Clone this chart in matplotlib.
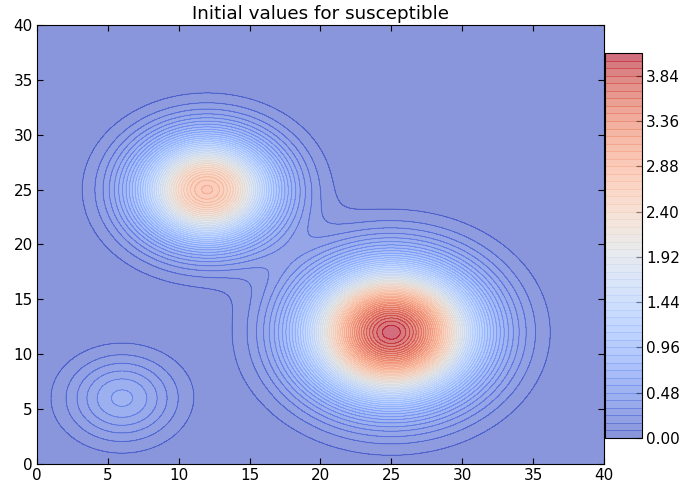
import numpy as np
import matplotlib
matplotlib.use("Agg")
import matplotlib.pyplot as plt

plt.rcParams['font.size'] = 11
plt.rcParams['xtick.direction'] = 'in'
plt.rcParams['ytick.direction'] = 'in'
plt.rcParams['xtick.top'] = True
plt.rcParams['ytick.right'] = True

# начальные очаги: центр, высота, ширина
cx = [12.0, 25.0, 6.0]
cy = [25.0, 12.0, 6.0]
amp = [2.9, 4.05, 0.5]
width = [10.8, 16.0, 6.85]   # sigma^2

cbar_ticks = [0.00, 0.48, 0.96, 1.44, 1.92, 2.40, 2.88, 3.36, 3.84]

x = np.linspace(0, 40, 401)
y = np.linspace(0, 40, 401)
X, Y = np.meshgrid(x, y)
S = np.zeros_like(X)
for i in range(len(cx)):
    S += amp[i] * np.exp(-((X - cx[i])**2 + (Y - cy[i])**2) / (2 * width[i]))

levels = np.arange(0, 4.09, 0.08)

fig = plt.figure(figsize=(6.81, 4.90), dpi=100)
ax = fig.add_axes([0.0543, 0.0531, 0.8326, 0.8959])
cf = ax.contourf(X, Y, S, levels=levels, cmap='coolwarm', alpha=0.6)
cl = ax.contour(X, Y, S, levels=levels, cmap='coolwarm', alpha=0.6, linewidths=0.7)
ax.set_xlim(0, 40)
ax.set_ylim(0, 40)
ax.set_xticks(np.arange(0, 41, 5))
ax.set_yticks(np.arange(0, 41, 5))
ax.tick_params(length=4, pad=3)
ax.set_title("Initial values for susceptible", fontsize=13.2, pad=4)

cax = fig.add_axes([0.8884, 0.1061, 0.0543, 0.7857])
cb = fig.colorbar(cf, cax=cax, ticks=cbar_ticks, format='%.2f')
cb.add_lines(cl)
cax.tick_params(direction='in', right=True, left=False, length=4, pad=3)

plt.savefig("out.png", dpi=100)
